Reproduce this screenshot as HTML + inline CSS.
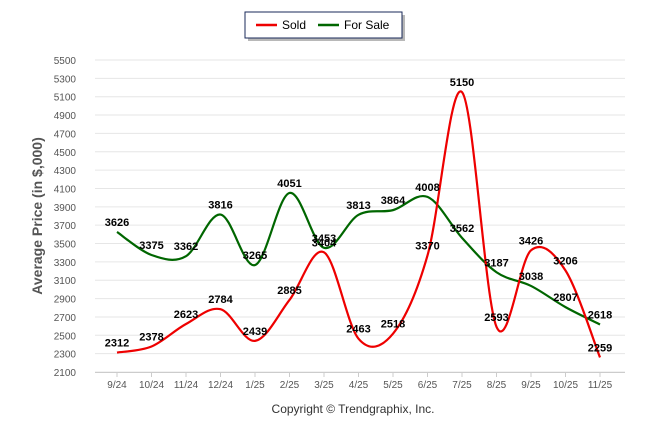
<!DOCTYPE html>
<html><head><meta charset="utf-8"><style>
body{margin:0;background:#fff;font-family:"Liberation Sans",Arial,sans-serif}
svg{display:block}
</style></head><body>
<svg id="c" width="646" height="434">
<g>
<rect x="248" y="15" width="157" height="26" fill="#888" opacity="0.6"/>
<rect x="245" y="12" width="157" height="26" fill="#fff" stroke="#1a2a5a" stroke-width="1"/>
<line x1="256" y1="25" x2="277" y2="25" stroke="#e00" stroke-width="2.5"/>
<text x="282" y="29" font-size="12" fill="#000">Sold</text>
<line x1="318" y1="25" x2="339" y2="25" stroke="#060" stroke-width="2.5"/>
<text x="344" y="29" font-size="12" fill="#000">For Sale</text>
</g>
<text transform="translate(42,216) rotate(-90)" text-anchor="middle" font-size="14" font-weight="bold" fill="#555">Average Price (in $,000)</text>
<text x="353" y="413" text-anchor="middle" font-size="12" fill="#333">Copyright © Trendgraphix, Inc.</text>
<g id="grid"></g><g id="lines"></g><g id="labels"></g>
</svg>
<script>
const categories=["9/24","10/24","11/24","12/24","1/25","2/25","3/25","4/25","5/25","6/25","7/25","8/25","9/25","10/25","11/25"];
const soldValues=[2312,2378,2623,2784,2439,2885,3404,2463,2518,3370,5150,2593,3426,3206,2259];
const forSaleValues=[3626,3375,3362,3816,3265,4051,3453,3813,3864,4008,3562,3187,3038,2807,2618];
const yTicks=[2100,2300,2500,2700,2900,3100,3300,3500,3700,3900,4100,4300,4500,4700,4900,5100,5300,5500];
const NS="http://www.w3.org/2000/svg";
const x=i=>117+i*34.5;
const y=v=>372-(v-2100)*312/3400;
function mk(t,a,p){const e=document.createElementNS(NS,t);for(const k in a)e.setAttribute(k,a[k]);p.appendChild(e);return e;}
const grid=document.getElementById('grid');
yTicks.forEach(v=>{
 const l=mk('line',{x1:95,x2:625,y1:y(v),y2:y(v),stroke:'#e6e6e6'},grid);
 
 
 const t=mk('text',{x:76,y:y(v)+4,'text-anchor':'end','font-size':10,fill:'#555'},grid);
 t.textContent=v;
 
 
});
mk('line',{x1:95,x2:625,y1:372.5,y2:372.5,stroke:'#ccc'},grid);
categories.forEach((c,i)=>{
 mk('line',{x1:x(i),x2:x(i),y1:372,y2:377,stroke:'#ccc'},grid);
 const t=mk('text',{x:x(i),y:388,'text-anchor':'middle','font-size':10,fill:'#555'},grid);
 t.textContent=c;
 
 
});
function path(vals){
 const p=vals.map((v,i)=>[x(i),y(v)]);let d='M'+p[0][0]+','+p[0][1];
 for(let i=0;i<p.length-1;i++){const p0=p[i-1]||p[i],p1=p[i],p2=p[i+1],p3=p[i+2]||p2;
  const c1=[p1[0]+(p2[0]-p0[0])/6,p1[1]+(p2[1]-p0[1])/6],c2=[p2[0]-(p3[0]-p1[0])/6,p2[1]-(p3[1]-p1[1])/6];
  d+=` C${c1[0]},${c1[1]} ${c2[0]},${c2[1]} ${p2[0]},${p2[1]}`;}
 return d;}
const lines=document.getElementById('lines'),labels=document.getElementById('labels');
[[forSaleValues,'#060','for-sale'],[soldValues,'#e00','sold']].forEach(([vals,col,nm])=>{
 const pa=mk('path',{d:path(vals),fill:'none',stroke:col,'stroke-width':2.2},lines);
 
 
 vals.forEach((v,i)=>{
  const t=mk('text',{x:x(i),y:y(v)-6,'text-anchor':'middle','font-size':11,'font-weight':'bold',fill:'#000'},labels);
  t.textContent=v;
  
  
 });
});
</script>
</body></html>
